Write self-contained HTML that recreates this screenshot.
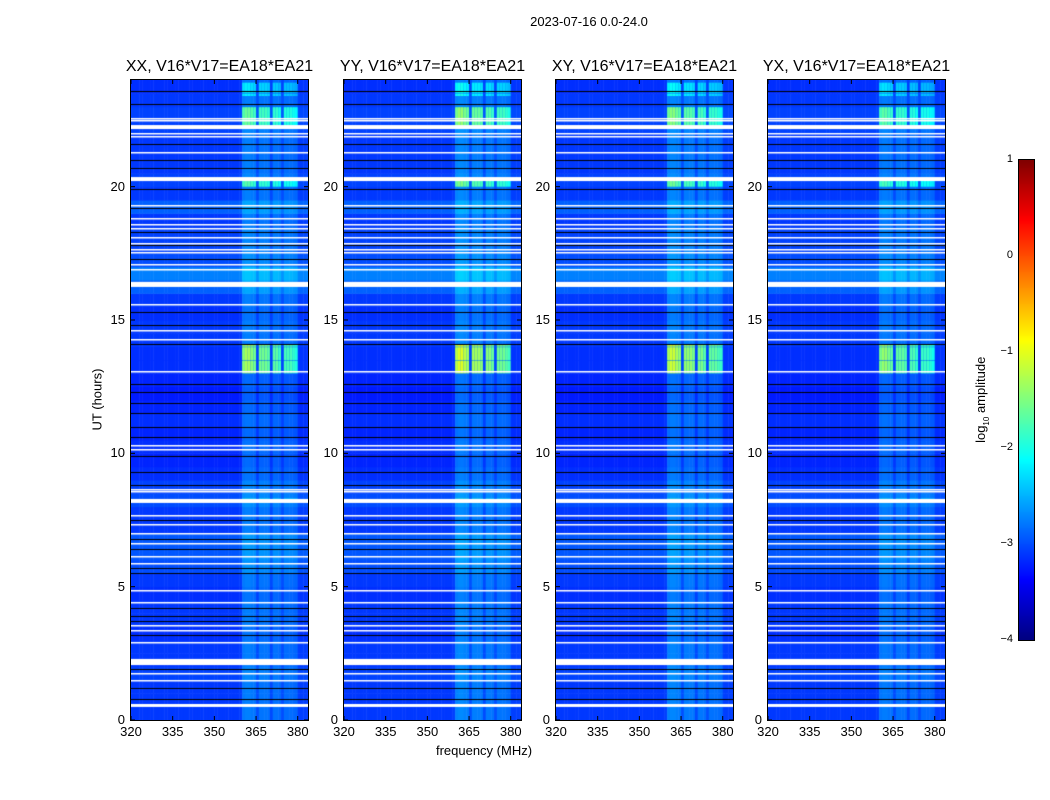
<!DOCTYPE html>
<html><head><meta charset="utf-8"><style>
body{margin:0;background:#fff;}
#root{position:relative;width:1050px;height:800px;font-family:"Liberation Sans",sans-serif;color:#000;overflow:hidden;}
.t{position:absolute;white-space:nowrap;}
canvas{position:absolute;}
</style></head><body>
<div id="root">
<div class="t" style="left:489px;top:14px;width:200px;text-align:center;font-size:13px;">2023-07-16 0.0-24.0</div>
<div class="t" style="left:384px;top:743px;width:200px;text-align:center;font-size:13px;">frequency (MHz)</div>
<div class="t" style="left:47px;top:392px;width:100px;text-align:center;font-size:13px;transform:rotate(-90deg);">UT (hours)</div>
<div class="t" style="left:922px;top:391px;width:120px;text-align:center;font-size:13px;transform:rotate(-90deg);">log<sub style="font-size:8px">10</sub> amplitude</div>
</div>
<script>
const panelTitles=["XX, V16*V17=EA18*EA21","YY, V16*V17=EA18*EA21","XY, V16*V17=EA18*EA21","YX, V16*V17=EA18*EA21"];
const panelLefts=[131,344,556,768];
const xTicks=[320,335,350,365,380];
const yTicks=[0,5,10,15,20];
const cbTicks=[1,0,-1,-2,-3,-4];
// log10 amplitude per half-hour row (0..24h)
const timeLevel=[-3.1,-3.1,-3.1,-3.05,-3.1,-3.1,-3.15,-3.1,-3.1,-3.15,-3.1,-3.0,-2.95,-2.95,-3.1,-3.1,-3.0,-3.05,-3.15,-3.2,-3.15,-3.2,-3.15,-3.2,-3.25,-3.2,-3.15,-3.15,-3.1,-3.1,-3.15,-3.1,-2.9,-2.75,-3.0,-3.05,-3.05,-3.1,-2.9,-3.1,-3.05,-3.1,-3.1,-3.1,-3.05,-3.05,-3.1,-3.15];
// per 1-MHz channel offset, 320..383
const chanOffset=[0,0,0,0,0,0,0,0,0,0,0,0,0,0,0,0,0,0,0,0,0,0,0,0,0,0,0,0,0,0,0,0,0,0,0,0,0,0,0,0.03,0.32,0.35,0.35,0.32,0.3,0.1,0.3,0.3,0.3,0.28,0.08,0.28,0.28,0.25,0.1,0.26,0.26,0.26,0.24,0.22,0.03,0.03,0.03,0.03];
const bandGain=[1,1.15,1.1,0.95];
const burstStart=[13.0,22.3,20.0,23.4,8.15];
const burstEnd=[14.1,23.0,20.3,23.9,8.3];
const burstAmp=[1.5,1.1,1.0,0.6,0.8];
const flagStart=[22.16,20.21,16.24,8.14,2.06,0.49];
const flagEnd=[22.31,20.36,16.43,8.29,2.29,0.6];
const thinFlags=[22.57,22.5,22.01,21.9,21.3,19.31,18.82,18.6,18.45,18.11,17.89,17.66,17.55,17.1,16.91,15.6,14.63,14.29,13.09,10.31,10.16,8.66,8.59,7.69,7.35,7.01,6.64,6.15,5.89,4.88,4.43,3.56,3.38,2.93,1.76,1.5];
const blackLines=[23.6,23.1,21.6,21.0,20.7,19.9,19.2,18.3,17.8,17.3,15.3,14.8,14.1,12.6,12.3,11.9,11.5,11.0,10.6,9.9,9.3,8.8,7.5,6.8,6.4,5.7,5.5,4.2,3.9,3.7,3.2,1.9,1.2,0.8];

const root=document.getElementById('root');
const TOP=80,H=640,W=177,F0=320,F1=383.7,T0=0,T1=24,VMIN=-4,VMAX=1;
const xs=f=>(f-F0)/(F1-F0)*W;
const ys=t=>H-(t-T0)/(T1-T0)*H;
function jet(v){let x=(v-VMIN)/(VMAX-VMIN);x=Math.max(0,Math.min(1,x));
 const c=a=>Math.round(255*Math.max(0,Math.min(1,1.5-Math.abs(4*x-a))));
 return 'rgb('+c(3)+','+c(2)+','+c(1)+')';}
function txt(s,l,t,w,align,size,name){const d=document.createElement('div');d.className='t';
 
 
 d.style.left=l+'px';d.style.top=t+'px';d.style.width=w+'px';d.style.textAlign=align;d.style.fontSize=size+'px';d.textContent=s;root.appendChild(d);return d;}

panelLefts.forEach((L,p)=>{
 const cv=document.createElement('canvas');cv.width=W;cv.height=H;cv.style.left=L+'px';cv.style.top=TOP+'px';
 
 
 root.appendChild(cv);const g=cv.getContext('2d');
 const nT=timeLevel.length,dt=(T1-T0)/nT;
 for(let i=0;i<nT;i++){for(let c=0;c<chanOffset.length;c++){
   const t0=T0+i*dt,t1=t0+dt,f=F0+c;
   let v=timeLevel[i]+chanOffset[c]*bandGain[p];
   const y0=ys(t1),y1=ys(t0);
   g.fillStyle=jet(v);g.fillRect(xs(f),y0,xs(f+1)-xs(f)+0.5,y1-y0+0.5);
   if(chanOffset[c]>0.15){for(let b=0;b<burstStart.length;b++){
     const bs=Math.max(burstStart[b],t0),be=Math.min(burstEnd[b],t1);
     if(be>bs){g.fillStyle=jet(v+burstAmp[b]*bandGain[p]*(chanOffset[c]/0.35));
       g.fillRect(xs(f),ys(be),xs(f+1)-xs(f)+0.5,ys(bs)-ys(be));}
   }}
 }}
 g.fillStyle='#000';blackLines.forEach(t=>g.fillRect(0,Math.round(ys(t)),W,1));
 g.fillStyle='#fff';thinFlags.forEach(t=>g.fillRect(0,Math.round(ys(t)),W,1.5));
 flagStart.forEach((s,k)=>g.fillRect(0,ys(flagEnd[k]),W,ys(s)-ys(flagEnd[k])));
 const fr=document.createElement('div');
 
 
 fr.style.cssText='position:absolute;left:'+(L-1)+'px;top:'+(TOP-1)+'px;width:'+W+'px;height:'+H+'px;border:1px solid #000;';
 root.appendChild(fr);
 const sv=document.createElementNS('http://www.w3.org/2000/svg','svg');
 sv.setAttribute('width',W);sv.setAttribute('height',H);sv.style.cssText='position:absolute;left:'+L+'px;top:'+TOP+'px;';
 
 
 let s='';
 xTicks.forEach(v=>{const x=xs(v);s+=`<line x1="${x}" x2="${x}" y1="${H}" y2="${H-4}" stroke="#000"/><line x1="${x}" x2="${x}" y1="0" y2="4" stroke="#000"/>`;});
 yTicks.forEach(v=>{const y=ys(v);s+=`<line x1="0" x2="4" y1="${y}" y2="${y}" stroke="#000"/><line x1="${W}" x2="${W-4}" y1="${y}" y2="${y}" stroke="#000"/>`;});
 sv.innerHTML=s;root.appendChild(sv);
 xTicks.forEach(v=>txt(String(v),L+xs(v)-20,TOP+H+4,40,'center',13,'x-tick-label'));
 yTicks.forEach(v=>txt(String(v),L-40,TOP+ys(v)-8,34,'right',13,'y-tick-label'));
 txt(panelTitles[p],L+W/2-110,TOP-22,220,'center',16,'panel-title-'+(p+1));
});
const CBL=1019,CBT=160,CBW=15,CBH=480;
const cb=document.createElement('canvas');cb.width=CBW;cb.height=CBH;cb.style.left=CBL+'px';cb.style.top=CBT+'px';


root.appendChild(cb);const cg=cb.getContext('2d');
for(let y=0;y<CBH;y++){cg.fillStyle=jet(VMAX-(y+0.5)/CBH*(VMAX-VMIN));cg.fillRect(0,y,CBW,1);}
const cbf=document.createElement('div');


cbf.style.cssText='position:absolute;left:'+(CBL-1)+'px;top:'+(CBT-1)+'px;width:'+CBW+'px;height:'+CBH+'px;border:1px solid #000;';
root.appendChild(cbf);
cbTicks.forEach(v=>{const y=CBT+(VMAX-v)/(VMAX-VMIN)*CBH;
 txt(v<0?'\u2212'+(-v):String(v),CBL-46,y-7,40,'right',11,'colorbar-tick-label');});
</script>
</body></html>
